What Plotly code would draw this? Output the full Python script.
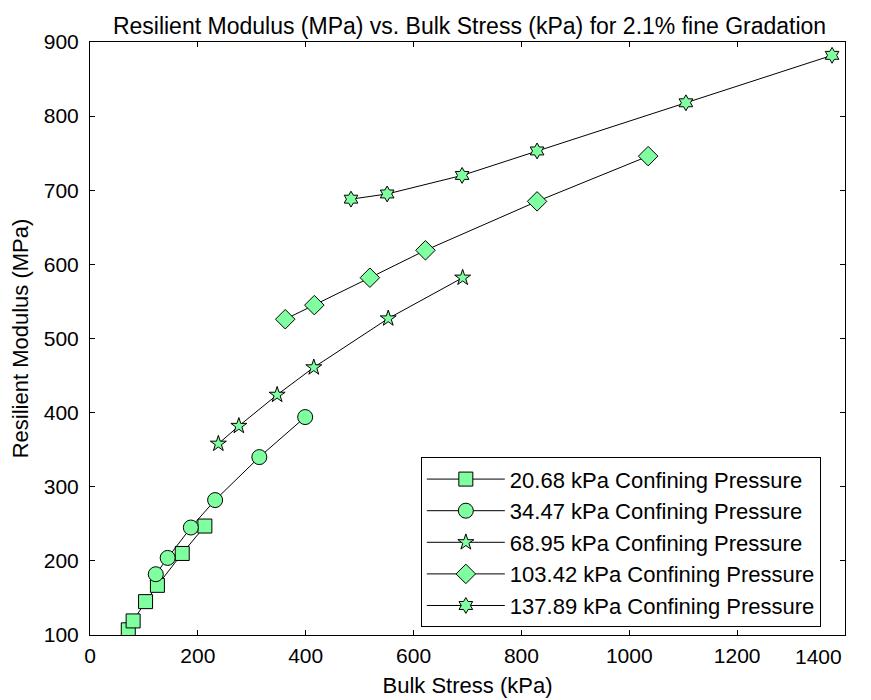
import plotly.graph_objects as go

# Data
names = [
    "20.68 kPa Confining Pressure",
    "34.47 kPa Confining Pressure",
    "68.95 kPa Confining Pressure",
    "103.42 kPa Confining Pressure",
    "137.89 kPa Confining Pressure",
]
x_2068 = [71, 80, 103, 125, 171, 213]
y_2068 = [107, 119, 145, 167, 210, 247]
x_3447 = [122, 144, 187, 232, 314, 399]
y_3447 = [182, 204, 245, 282, 340, 394]
x_6895 = [238, 276, 347, 415, 553, 691]
y_6895 = [358, 382, 424, 461, 527, 582]
x_10342 = [362, 416, 519, 622, 829, 1035]
y_10342 = [526, 545, 582, 619, 685, 746]
x_13789 = [484, 551, 690, 829, 1105, 1376]
y_13789 = [688, 695, 720, 753, 818, 882]

x_ticks = [0, 200, 400, 600, 800, 1000, 1200, 1400]
x_ticktext = ["0", "200", "400", "600", "800", "1000", "1200", ""]
y_ticks = [100, 200, 300, 400, 500, 600, 700, 800, 900]

xs = [x_2068, x_3447, x_6895, x_10342, x_13789]
ys = [y_2068, y_3447, y_6895, y_10342, y_13789]
symbols = ["square", "circle", "star", "diamond", "hexagram"]
sizes = [14, 15, 12, 15, 12]

FILL = "#80FFA0"
FONT = "Arial, Liberation Sans, sans-serif"

fig = go.Figure()
for x, y, n, s, sz in zip(xs, ys, names, symbols, sizes):
    fig.add_trace(go.Scatter(
        x=x, y=y, name=n, mode="lines+markers",
        line=dict(color="black", width=1),
        marker=dict(symbol=s, size=sz, color=FILL,
                    line=dict(color="black", width=1)),
    ))

axis_common = dict(
    showgrid=False, zeroline=False, automargin=False,
    showline=True, linecolor="black", linewidth=1,
    mirror="ticks", ticks="inside", ticklen=5, tickcolor="black",
    tickfont=dict(family=FONT, size=21, color="black"),
)

# last x tick label kept inside the figure, right-aligned like the reference
fig.add_annotation(x=x_ticks[-1], y=0, xref="x", yref="paper", text="1400",
                   showarrow=False, xanchor="right", yanchor="top", xshift=-1, yshift=-8,
                   font=dict(family=FONT, size=21, color="black"))

fig.update_layout(
    width=863, height=692,
    paper_bgcolor="white", plot_bgcolor="white",
    margin=dict(l=82, r=26, t=34, b=65),
    title=dict(text="Resilient Modulus (MPa) vs. Bulk Stress (kPa) for 2.1% fine Gradation",
               x=0.5348, xanchor="center", y=0.974, yanchor="middle",
               font=dict(family=FONT, size=23, color="black")),
    xaxis=dict(range=[0, 1400], tickvals=x_ticks, ticktext=x_ticktext,
               ticklabelstandoff=2,
               title=dict(text="Bulk Stress (kPa)", font=dict(family=FONT, size=22, color="black"),
                          standoff=11),
               **axis_common),
    yaxis=dict(range=[100, 900], tickvals=y_ticks,
               ticklabelstandoff=6,
               title=dict(text="Resilient Modulus (MPa)", font=dict(family=FONT, size=22, color="black"),
                          standoff=10),
               **axis_common),
    legend=dict(x=0.968, y=0.013, xanchor="right", yanchor="bottom",
                bgcolor="white", bordercolor="black", borderwidth=1,
                font=dict(family=FONT, size=22, color="black"),
                itemwidth=78, tracegroupgap=0),
    showlegend=True,
)

fig.write_html("out.html")
